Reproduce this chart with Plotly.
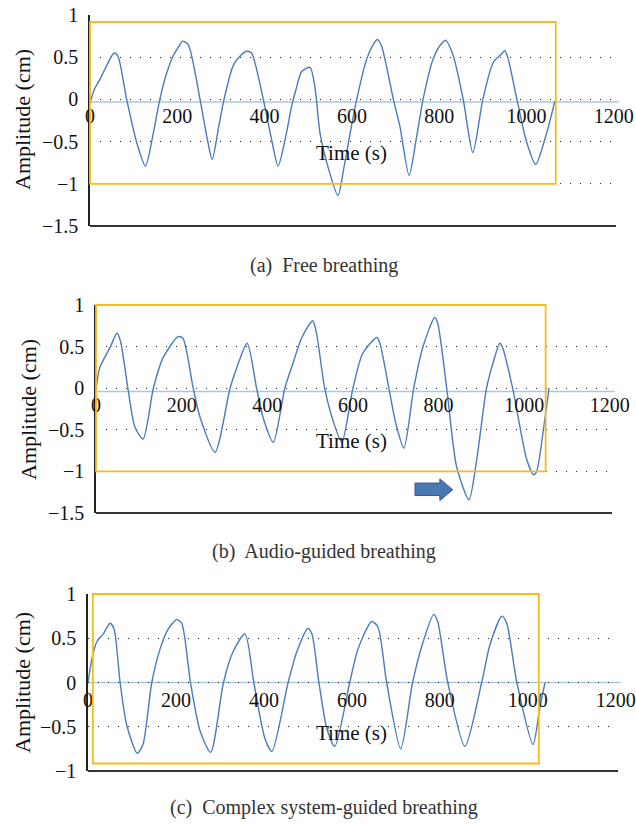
import plotly.graph_objects as go

# ---------------- data ----------------
# (a) Free breathing
a_time = [0, 10, 23, 40, 53, 57, 65, 84, 107, 127, 145, 160, 175, 191, 205, 212, 225, 252, 268, 280,
          295, 307, 328, 345, 359, 370, 397, 415, 431, 448, 462, 472, 485, 504, 515, 527, 548, 568,
          582, 596, 611, 634, 650, 658, 668, 695, 710, 731, 748, 763, 786, 805, 815, 832, 855, 877,
          900, 924, 945, 950, 958, 978, 1000, 1021, 1046, 1065]
a_amp = [-0.04, 0.12, 0.24, 0.42, 0.54, 0.55, 0.50, 0.0, -0.51, -0.79, -0.40, 0.0, 0.30, 0.52, 0.64, 0.69, 0.65,
         0.0, -0.45, -0.71, -0.32, 0.0, 0.40, 0.52, 0.57, 0.55, 0.0, -0.45, -0.79, -0.45, -0.08, 0.12, 0.33,
         0.38, 0.16, -0.40, -0.85, -1.14, -0.80, -0.40, 0.0, 0.48, 0.66, 0.71, 0.63, 0.0, -0.32, -0.90,
         -0.45, 0.0, 0.48, 0.66, 0.70, 0.52, 0.0, -0.63, 0.0, 0.44, 0.55, 0.58, 0.48, 0.0, -0.50, -0.77,
         -0.40, -0.02]

# (b) Audio-guided breathing
b_time = [0, 9, 33, 49, 57, 75, 91, 110, 134, 157, 192, 203, 227, 243, 278, 313, 329, 353, 375, 390,
          414, 441, 460, 480, 506, 515, 534, 553, 574, 600, 623, 656, 663, 684, 700, 719, 742, 763,
          791, 798, 819, 842, 871, 889, 912, 927, 943, 950, 973, 1006, 1022, 1029, 1048, 1058]
b_amp = [-0.02, 0.25, 0.49, 0.66, 0.57, -0.02, -0.47, -0.61, 0.0, 0.37, 0.62, 0.60, 0.0, -0.35, -0.77,
         0.0, 0.25, 0.54, 0.0, -0.35, -0.65, 0.0, 0.30, 0.60, 0.81, 0.66, 0.0, -0.38, -0.65, 0.0, 0.42,
         0.61, 0.54, 0.0, -0.42, -0.72, 0.0, 0.49, 0.85, 0.78, 0.0, -0.94, -1.34, -0.86, 0.0, 0.30, 0.54,
         0.48, 0.0, -0.86, -1.04, -1.00, -0.38, 0.0]

# (c) Complex system-guided breathing
c_time = [0, 9, 20, 35, 50, 59, 73, 88, 112, 125, 145, 164, 182, 202, 213, 233, 255, 279, 308, 330,
          357, 377, 402, 418, 455, 475, 500, 509, 525, 543, 561, 595, 614, 645, 659, 679, 711, 738,
          762, 786, 795, 818, 857, 895, 914, 941, 952, 975, 1012, 1027, 1039]
c_amp = [0.0, 0.27, 0.46, 0.55, 0.67, 0.61, 0.0, -0.48, -0.80, -0.70, 0.0, 0.38, 0.60, 0.71, 0.67, 0.0,
         -0.55, -0.79, 0.0, 0.35, 0.55, 0.0, -0.63, -0.78, 0.0, 0.35, 0.61, 0.55, 0.0, -0.52, -0.72, 0.0,
         0.38, 0.69, 0.63, 0.0, -0.75, 0.0, 0.46, 0.77, 0.69, 0.0, -0.72, 0.0, 0.43, 0.75, 0.67, 0.0,
         -0.70, -0.29, 0.0]

x_ticks = [0, 200, 400, 600, 800, 1000, 1200]
x_ticktext = ["0", "200", "400", "600", "800", "1000", "1200"]
y_ticks_ab = [-1.5, -1, -0.5, 0, 0.5, 1]
y_ticktext_ab = ["\u22121.5", "\u22121", "\u22120.5", "0", "0.5", "1"]
y_ticks_c = [-1, -0.5, 0, 0.5, 1]
y_ticktext_c = ["\u22121", "\u22120.5", "0", "0.5", "1"]

captions = ["(a)  Free breathing", "(b)  Audio-guided breathing", "(c)  Complex system-guided breathing"]

# highlight boxes [x0, x1, y0, y1]
box_a = [0, 1067, -1.0, 0.917]
box_b = [0, 1050, -1.0, 1.0]
box_c = [11, 1025, -0.915, 1.0]
baseline = [-0.03, -0.04, 0.0]

# ---------------- layout geometry ----------------
W, H = 636, 824
panels = [
    dict(t=a_time, v=a_amp, xr=[0, 1205], yr=[-1.5, 1], xpx=(90, 616), ypx=(15, 226),
         yt=y_ticks_ab, ytt=y_ticktext_ab, box=box_a, base=baseline[0],
         ttl=(600, -0.63), ytitle=(23, 120), cap=(324, 265)),
    dict(t=b_time, v=b_amp, xr=[0, 1205], yr=[-1.5, 1], xpx=(96, 612), ypx=(305, 513),
         yt=y_ticks_ab, ytt=y_ticktext_ab, box=box_b, base=baseline[1],
         ttl=(597, -0.63), ytitle=(28, 410), cap=(324, 551)),
    dict(t=c_time, v=c_amp, xr=[0, 1205], yr=[-1, 1], xpx=(88, 618), ypx=(594, 771),
         yt=y_ticks_c, ytt=y_ticktext_c, box=box_c, base=baseline[2],
         ttl=(600, -0.57), ytitle=(22, 683), cap=(324, 807)),
]

FONT = "Liberation Serif"
BLUE = "#4a7bbd"
ORANGE = "#f7bb1e"
LIGHT = "#aec5e6"

fig = go.Figure()
layout = dict(width=W, height=H, margin=dict(l=0, r=0, t=0, b=0, autoexpand=False),
              paper_bgcolor="white", plot_bgcolor="white", showlegend=False,
              shapes=[], annotations=[])


def to_paper(p, x, y):
    """Convert data coordinates of a panel to paper coordinates (for unclipped shapes)."""
    x0, x1 = p["xr"]
    y0, y1 = p["yr"]
    px = p["xpx"][0] + (x - x0) / (x1 - x0) * (p["xpx"][1] - p["xpx"][0])
    py = p["ypx"][1] - (y - y0) / (y1 - y0) * (p["ypx"][1] - p["ypx"][0])
    return px / W, 1 - py / H


for i, p in enumerate(panels, start=1):
    xs = "" if i == 1 else str(i)
    xd = [p["xpx"][0] / W, p["xpx"][1] / W]
    yd = [1 - p["ypx"][1] / H, 1 - p["ypx"][0] / H]
    ymin, ymax = p["yr"]
    pos0 = yd[0] + (0 - ymin) / (ymax - ymin) * (yd[1] - yd[0])

    fig.add_trace(go.Scatter(x=p["t"], y=p["v"], mode="lines",
                             line=dict(color=BLUE, width=1.4, shape="spline", smoothing=0.7),
                             xaxis="x" + xs, yaxis="y" + xs, hoverinfo="skip"))

    layout["xaxis" + xs] = dict(domain=xd, range=p["xr"], anchor="free", position=pos0,
                                showline=False, showgrid=False, zeroline=False,
                                tickvals=x_ticks, ticktext=x_ticktext, ticks="",
                                ticklabelstandoff=3,
                                tickfont=dict(family=FONT, size=20, color="#111"))
    layout["yaxis" + xs] = dict(domain=yd, range=p["yr"], anchor="x" + xs,
                                showline=True, linecolor="#222", linewidth=1.5,
                                showgrid=True, gridcolor="#222", gridwidth=1.2,
                                griddash="1px,9px", zeroline=False,
                                tickvals=p["yt"], ticktext=p["ytt"], ticks="",
                                ticklabelstandoff=6,
                                tickfont=dict(family=FONT, size=20, color="#111"))

    # bottom axis line
    layout["shapes"].append(dict(type="line", xref="paper", yref="paper",
                                 x0=xd[0], x1=xd[1], y0=yd[0], y1=yd[0],
                                 line=dict(color="#333", width=2)))
    # light blue baseline
    layout["shapes"].append(dict(type="line", xref="x" + xs + " domain", yref="y" + xs,
                                 x0=0, x1=1.005, y0=p["base"], y1=p["base"],
                                 line=dict(color=LIGHT, width=1.5), layer="below"))
    # orange highlight box (paper coordinates so it is not clipped at the axis edges)
    bx = p["box"]
    bx0, by0 = to_paper(p, bx[0], bx[2])
    bx1, by1 = to_paper(p, bx[1], bx[3])
    layout["shapes"].append(dict(type="rect", xref="paper", yref="paper",
                                 x0=bx0, x1=bx1, y0=by0, y1=by1,
                                 line=dict(color=ORANGE, width=1.8), fillcolor="rgba(0,0,0,0)"))
    # x title
    layout["annotations"].append(dict(text="Time (s)", xref="x" + xs, yref="y" + xs,
                                      x=p["ttl"][0], y=p["ttl"][1], showarrow=False,
                                      xanchor="center", yanchor="middle",
                                      font=dict(family=FONT, size=21, color="#111")))
    # y title
    layout["annotations"].append(dict(text="Amplitude (cm)", xref="paper", yref="paper",
                                      x=p["ytitle"][0] / W, y=1 - p["ytitle"][1] / H,
                                      xanchor="center", yanchor="middle",
                                      textangle=-90, showarrow=False,
                                      font=dict(family=FONT, size=22, color="#111")))
    # caption
    layout["annotations"].append(dict(text=captions[i - 1], xref="paper", yref="paper",
                                      x=p["cap"][0] / W, y=1 - p["cap"][1] / H,
                                      xanchor="center", yanchor="middle",
                                      showarrow=False,
                                      font=dict(family=FONT, size=20, color="#333")))

# block arrow in panel (b)
arrow_x = [745, 803, 833]
arrow_y = [-1.09, -1.14, -1.22, -1.29, -1.35]
path = (f"M {arrow_x[0]},{arrow_y[1]} L {arrow_x[1]},{arrow_y[1]} L {arrow_x[1]},{arrow_y[0]} "
        f"L {arrow_x[2]},{arrow_y[2]} L {arrow_x[1]},{arrow_y[4]} L {arrow_x[1]},{arrow_y[3]} "
        f"L {arrow_x[0]},{arrow_y[3]} Z")
layout["shapes"].append(dict(type="path", xref="x2", yref="y2", path=path,
                             fillcolor="#4a78b4", line=dict(color="#35598a", width=1)))

fig.update_layout(**layout)
fig.write_html("out.html")
